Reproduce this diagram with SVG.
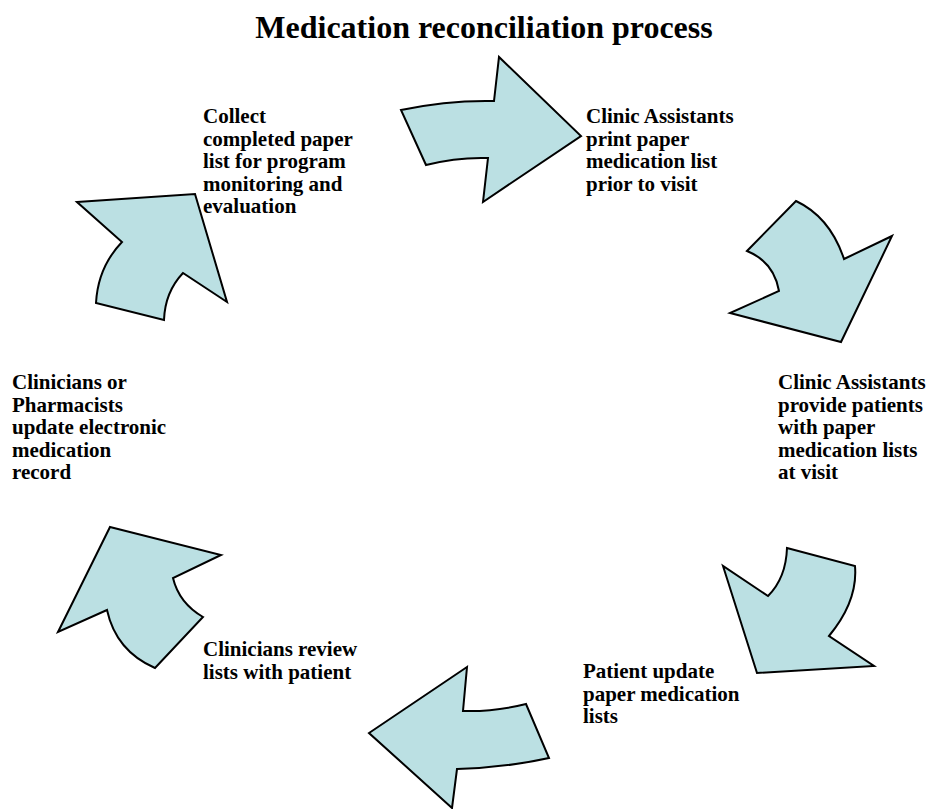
<svg xmlns="http://www.w3.org/2000/svg" width="930" height="809" viewBox="0 0 930 809">
<style>
.t{font-family:"Liberation Serif","Times New Roman",serif;font-weight:bold;font-size:21px;fill:#000}
.title{font-family:"Liberation Serif","Times New Roman",serif;font-weight:bold;font-size:32px;fill:#000}
.ar{fill:#BBE0E3;stroke:#000;stroke-width:2;stroke-linejoin:miter}
</style>
<rect width="930" height="809" fill="#fff"/>
<text class="title" x="484" y="38" text-anchor="middle">Medication reconciliation process</text>
<g id="connectors">
<path class="ar" d="M401,110 Q448,100 494,101 L499,57 L581,136 L483,202 L488,158 Q457,157 426,165 Z"/>
<path class="ar" d="M796,201 Q830,217 844,259 L892,236 L841,342 L730,313 L779,291 Q774,262 747,251 Z"/>
<path class="ar" d="M787,548 L855,566 Q858,601 829,636 L874,666 L757,673 L723,566 L768,596 Q786,578 787,548 Z"/>
<path class="ar" d="M467,667 L369,733 L452,808 L457,769 Q503,768 549,758 L526,704 Q494,712 463,711 Z"/>
<path class="ar" d="M110,527 L221,555 L173,578 Q179,603 203,617 L155,668 Q116,651 107,610 L58,632 Z"/>
<path class="ar" d="M77,202 L195,194 L227,302 L183,273 Q165,292 164,320 L96,303 Q98,267 122,242 Z"/>
</g>
<g id="node1"><text class="t" x="586" y="123"><tspan x="586">Clinic Assistants</tspan><tspan x="586" dy="22.5">print paper</tspan><tspan x="586" dy="22.5">medication list</tspan><tspan x="586" dy="22.5">prior to visit</tspan></text></g>
<g id="node2"><text class="t" x="778" y="389"><tspan x="778">Clinic Assistants</tspan><tspan x="778" dy="22.5">provide patients</tspan><tspan x="778" dy="22.5">with paper</tspan><tspan x="778" dy="22.5">medication lists</tspan><tspan x="778" dy="22.5">at visit</tspan></text></g>
<g id="node3"><text class="t" x="583" y="678"><tspan x="583">Patient update</tspan><tspan x="583" dy="22.5">paper medication</tspan><tspan x="583" dy="22.5">lists</tspan></text></g>
<g id="node4"><text class="t" x="203" y="656"><tspan x="203">Clinicians review</tspan><tspan x="203" dy="22.5">lists with patient</tspan></text></g>
<g id="node5"><text class="t" x="12" y="389"><tspan x="12">Clinicians or</tspan><tspan x="12" dy="22.5">Pharmacists</tspan><tspan x="12" dy="22.5">update electronic</tspan><tspan x="12" dy="22.5">medication</tspan><tspan x="12" dy="22.5">record</tspan></text></g>
<g id="node6"><text class="t" x="203" y="123"><tspan x="203">Collect</tspan><tspan x="203" dy="22.5">completed paper</tspan><tspan x="203" dy="22.5">list for program</tspan><tspan x="203" dy="22.5">monitoring and</tspan><tspan x="203" dy="22.5">evaluation</tspan></text></g>
</svg>
